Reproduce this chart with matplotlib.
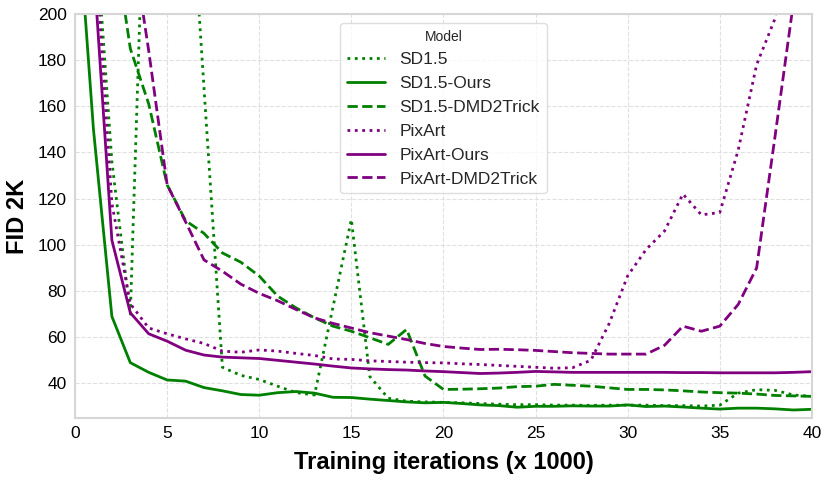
import numpy as np
import matplotlib
matplotlib.use("Agg")
import matplotlib.pyplot as plt
import seaborn as sns

# training iterations (x 1000)
steps = list(range(0, 41))

sd15 = [300, 250, 136, 70, 320, 330, 290, 168, 47, 43.5,
        41.7, 38.8, 36, 35, 73, 111, 43, 33.6, 32.3, 32,
        31.8, 31.6, 31.3, 31, 30.8, 30.8, 30.6, 30.6, 30.5, 30.6,
        30.6, 30.6, 30.4, 30.4, 30.2, 30.6, 35.8, 37.3, 37, 35,
        34.4]
sd15_ours = [260, 150, 69, 49, 44.8, 41.5, 41, 38.2, 36.8, 35.2,
             34.9, 36, 36.5, 35.8, 34, 33.9, 33.2, 32.6, 32, 31.6,
             31.8, 31.3, 30.7, 30.4, 29.7, 30.1, 30.1, 30.3, 30.2, 30.2,
             30.7, 30, 30.2, 29.8, 29.3, 28.9, 29.3, 29.3, 29, 28.5,
             28.8]
sd15_dmd2 = [300, 270, 239, 185, 161, 126, 110.5, 105, 96.5, 92.5,
             86.5, 77.8, 72.7, 68.4, 64.8, 62.6, 59.8, 56.9, 63.4, 43.2,
             37.4, 37.5, 37.7, 38, 38.6, 38.8, 39.6, 39.2, 38.8, 38.1,
             37.4, 37.4, 37.2, 36.8, 36.3, 36, 35.8, 35.4, 34.8, 34.6,
             34.4]
pixart = [300, 240, 118, 74.5, 64, 61.5, 59.3, 57.3, 54, 53.5,
          54.5, 54, 53, 52.1, 50.6, 50.4, 49.8, 49.5, 49.2, 49,
          48.9, 48.5, 48.2, 47.8, 47.4, 47, 46.6, 46.8, 50, 66,
          86.6, 98, 106, 122, 113, 114, 141, 178, 198, 260,
          300]
pixart_ours = [300, 222, 102, 70.6, 61.5, 58.3, 54.4, 52.3, 51.4, 51.1,
               50.8, 50, 49.2, 48.4, 47.5, 46.7, 46.3, 46, 45.8, 45.4,
               45.1, 44.7, 44.3, 44.5, 44.8, 45.2, 45, 44.8, 44.8, 44.8,
               44.8, 44.8, 44.8, 44.7, 44.7, 44.6, 44.6, 44.6, 44.6, 44.8,
               45.1]
pixart_dmd2 = [320, 300, 270, 237, 184, 126, 110, 93.5, 88.6, 83,
               79, 75.8, 72, 68.4, 66, 64, 62, 60.5, 59, 57.3,
               56, 55.3, 54.7, 54.8, 54.6, 54.3, 53.8, 53.3, 53, 52.7,
               52.7, 52.7, 56.5, 64.8, 62.6, 64.8, 74.2, 90, 147, 205,
               260]

sns.set_style("whitegrid")
plt.rcParams['font.family'] = ['Liberation Sans', 'DejaVu Sans']

fig = plt.figure(figsize=(8.31, 4.8), dpi=100)
ax = fig.add_axes([0.0903, 0.129, 0.8867, 0.842])

lw = 2
ax.plot(steps, sd15, color='green', linestyle=':', linewidth=lw, label='SD1.5')
ax.plot(steps, sd15_ours, color='green', linestyle='-', linewidth=lw, label='SD1.5-Ours')
ax.plot(steps, sd15_dmd2, color='green', linestyle='--', linewidth=lw, label='SD1.5-DMD2Trick')
ax.plot(steps, pixart, color='purple', linestyle=':', linewidth=lw, label='PixArt')
ax.plot(steps, pixart_ours, color='purple', linestyle='-', linewidth=lw, label='PixArt-Ours')
ax.plot(steps, pixart_dmd2, color='purple', linestyle='--', linewidth=lw, label='PixArt-DMD2Trick')

ax.set_xlim(0, 40)
ax.set_ylim(25, 200)
ax.set_xticks(np.arange(0, 41, 5))
ax.set_yticks(np.arange(40, 201, 20))
ax.tick_params(labelsize=12.5, colors='black', length=0, pad=6)

ax.set_xlabel('Training iterations (x 1000)', fontsize=17, fontweight='bold',
              color='black', labelpad=7)
ax.set_ylabel('FID 2K', fontsize=17, fontweight='bold', color='black', labelpad=6)

ax.grid(True, linestyle='--', color='#e0e0e0', linewidth=0.8)
for s in ax.spines.values():
    s.set_color('#d6d6d6')
    s.set_linewidth(1.5)

leg = ax.legend(title='Model', loc='upper center', fontsize=12.5, title_fontsize=10,
                frameon=True, handlelength=2.2)
leg.get_frame().set_edgecolor('#d6d6d6')

fig.savefig('out.png', dpi=100)
